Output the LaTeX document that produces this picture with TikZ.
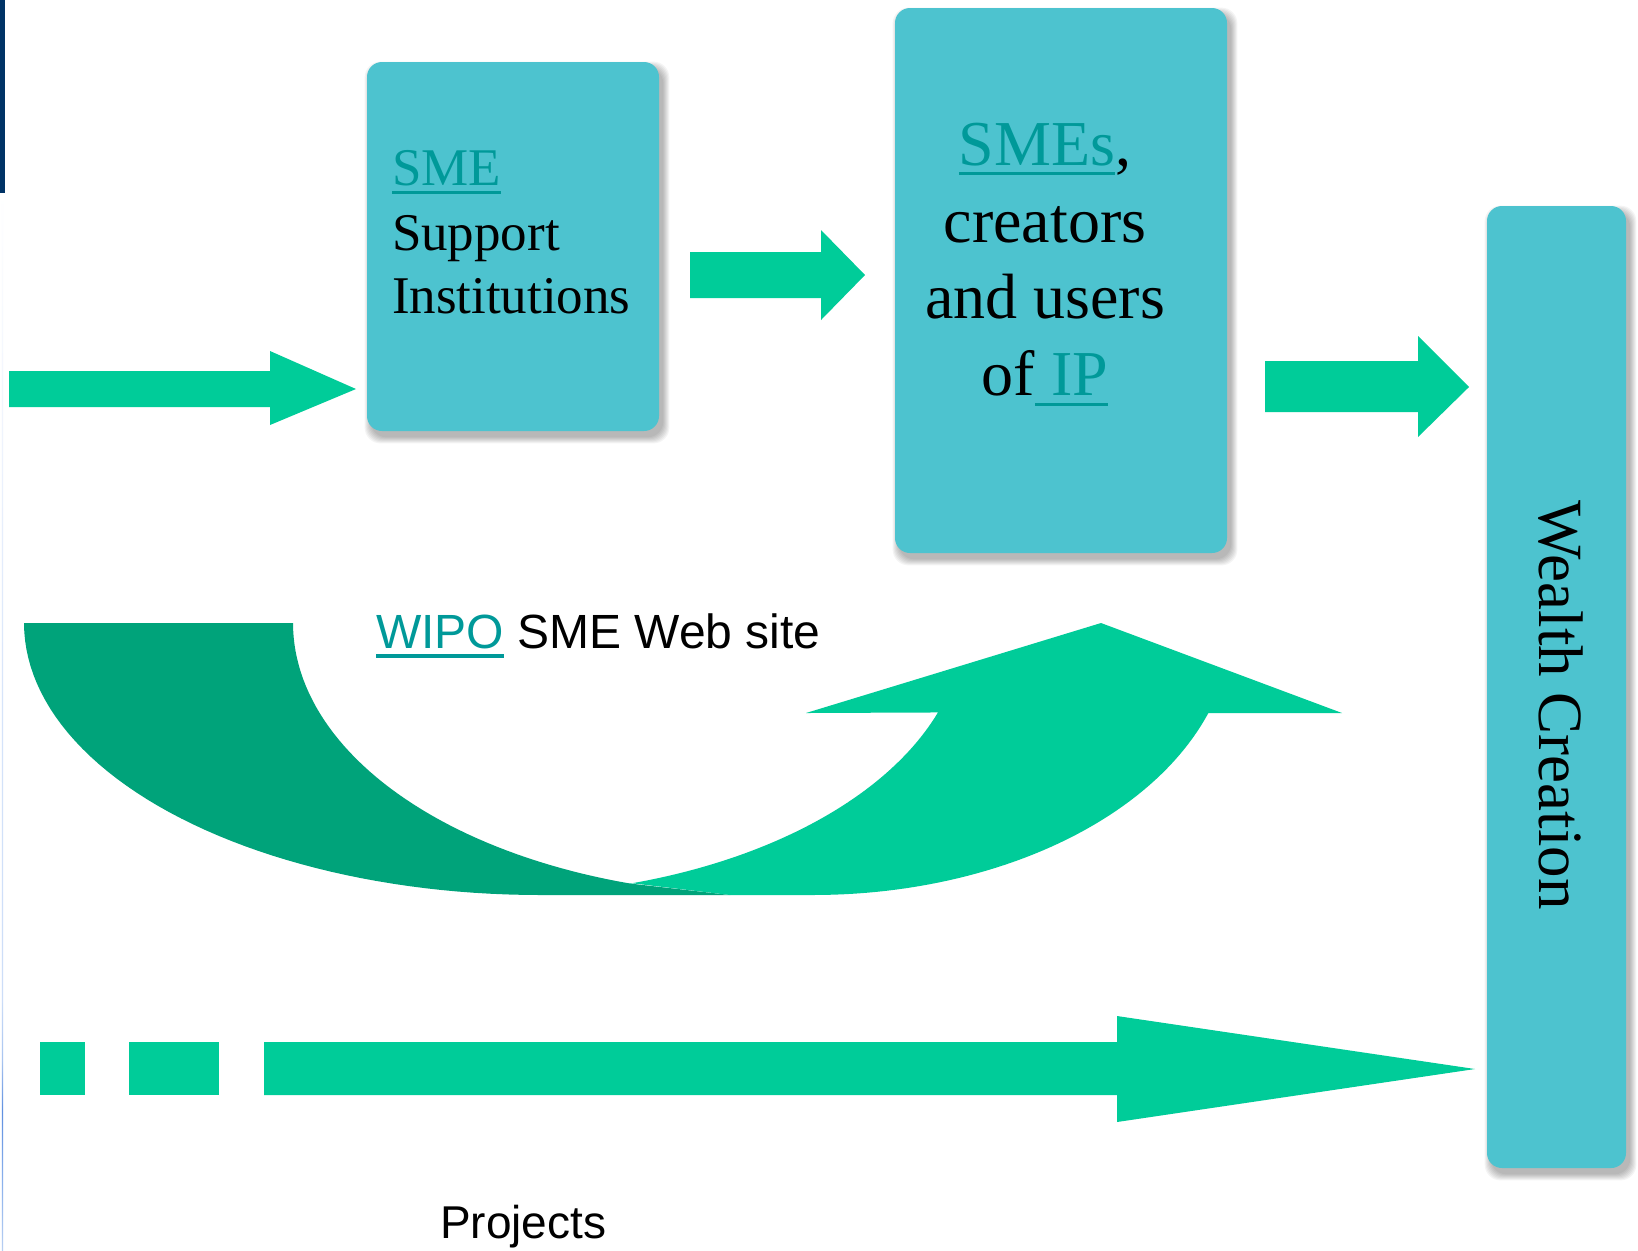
\documentclass[tikz,border=0pt]{standalone}
\usepackage{fontspec}
\setmainfont{Liberation Serif}
\newfontfamily\arialf{Liberation Sans}
\definecolor{arrowgreen}{HTML}{00CC99}
\definecolor{darkgreen}{HTML}{00A37A}
\definecolor{boxcyan}{HTML}{4DC3CF}
\definecolor{linkc}{HTML}{009999}
\definecolor{navy}{HTML}{003366}
\definecolor{es1}{HTML}{B8CFF2}
\definecolor{es2}{HTML}{8AB0EC}
\definecolor{es3}{HTML}{6090E0}
\definecolor{es4}{HTML}{A8C4F0}
\definecolor{es5}{HTML}{CCDDF8}
\definecolor{es6}{HTML}{D6E4FA}
\definecolor{es7}{HTML}{EEF3FD}
\pgfdeclareverticalshading{edgeshade}{10bp}{color(0bp)=(es1); color(25bp)=(es1); color(28.3bp)=(es2); color(31.6bp)=(es3); color(34bp)=(es4); color(36.9bp)=(es5); color(51bp)=(es6); color(62.9bp)=(es7); color(75bp)=(white); color(100bp)=(white)}
\pgfdeclarelayer{bg}
\pgfsetlayers{bg,main}
\newcommand\myul[3]{\setbox0\hbox{#3}\rlap{\rule[-#1]{\wd0}{#2}}\box0}
\begin{document}
\begin{tikzpicture}[x=0.5pt,y=-0.5pt,
  boxstyle/.style={fill=boxcyan, draw=none, rounded corners=7.5pt, inner sep=0pt},
  txt/.style={inner sep=0pt, outer sep=0pt},
  serifA/.style={font=\fontsize{26.5}{32}\selectfont},
  serifB/.style={font=\fontsize{32}{38}\selectfont},
  serifC/.style={font=\fontsize{31.5}{38}\selectfont},
  sansA/.style={font=\arialf\fontsize{24}{29}\selectfont},
  sansB/.style={font=\arialf\fontsize{23}{28}\selectfont}]
\useasboundingbox (0,0) rectangle (1638,1250);
% left edge decoration
\fill[navy] (0,0) rectangle (5,193);
\shade[shading=edgeshade] (0,193) rectangle (5,1250);

% boxes
\node[boxstyle, minimum width=146pt, minimum height=184.5pt] (sme) at (513,246.5) {};
\node[boxstyle, minimum width=166pt, minimum height=272.5pt] (smes) at (1061,280.5) {};
\node[boxstyle, minimum width=69.5pt, minimum height=481pt] (wealth) at (1556.5,687) {};

\begin{pgfonlayer}{bg}
\fill[white] (0,0) rectangle (1638,1250);
\foreach \b in {sme,smes,wealth}{
  \foreach \e in {0,...,6}{
    \fill[black, opacity=0.045, rounded corners=8pt]
      ([shift={(4-\e,6-\e)}]\b.north west) rectangle ([shift={(4+\e,6+\e)}]\b.south east);
  }
}
\end{pgfonlayer}

% text in SME box
\node[txt, serifA, anchor=base west] (t1) at (392,185) {\textcolor{linkc}{\myul{4.5pt}{1.3pt}{SME}}};
\node[txt, serifA, anchor=base west] (t2) at (392,250) {Support};
\node[txt, serifA, anchor=base west] (t3) at (392,313) {Institutions};

% text in SMEs box
\node[txt, serifB, anchor=base] (u1) at (1045,165) {\textcolor{linkc}{\myul{5pt}{1.6pt}{SMEs}},};
\node[txt, serifB, anchor=base] (u2) at (1045,242) {creators};
\node[txt, serifB, anchor=base] (u3) at (1045,318) {and users};
\node[txt, serifB, anchor=base] (u4) at (1045,395) {of\textcolor{linkc}{\myul{5.5pt}{1.6pt}{\ IP}}};

% Wealth creation
\node[txt, serifC, rotate=-90, anchor=base] (w1) at (1539,705) {Wealth Creation};

% straight arrows
\fill[arrowgreen] (9,371) -- (270,371) -- (270,351) -- (356,389) -- (270,425) -- (270,407) -- (9,407) -- cycle;
\fill[arrowgreen] (690,252) -- (821,252) -- (821,230) -- (865,275) -- (821,320) -- (821,298) -- (690,298) -- cycle;
\fill[arrowgreen] (1265,361) -- (1418,361) -- (1418,336) -- (1469,387) -- (1418,437) -- (1418,412) -- (1265,412) -- cycle;

% bottom dashed arrow
\fill[arrowgreen] (40,1042) rectangle (85,1095);
\fill[arrowgreen] (129,1042) rectangle (219,1095);
\fill[arrowgreen] (264,1042) -- (1117,1042) -- (1117,1016) -- (1475,1069) -- (1117,1122) -- (1117,1095) -- (264,1095) -- cycle;

% U-turn arrow
\fill[darkgreen] (24,623) -- (293,623)
  -- plot[domain=180:106.7, samples=50] ({766+473*cos(\x)},{623+272*sin(\x)})
  -- (730,895) -- (540,895)
  -- plot[domain=90:180, samples=50] ({540+516*cos(\x)},{623+272*sin(\x)}) -- cycle;
\fill[arrowgreen] (630,883)
  -- plot[domain=73.4:19.2, samples=50] ({496+468*cos(\x)},{623+272*sin(\x)})
  -- (806,713) -- (1101,623) -- (1342,713) -- (1208,713)
  -- plot[domain=19.3:90, samples=50] ({813+419*cos(\x)},{623+272*sin(\x)})
  -- (730,895) -- cycle;

% labels
\node[txt, sansA, anchor=base west] (web) at (376,648) {\textcolor{linkc}{\myul{5pt}{1.8pt}{WIPO}} SME Web site};
\node[txt, sansB, anchor=base west] (proj) at (440,1238) {Projects};
\end{tikzpicture}
\end{document}
